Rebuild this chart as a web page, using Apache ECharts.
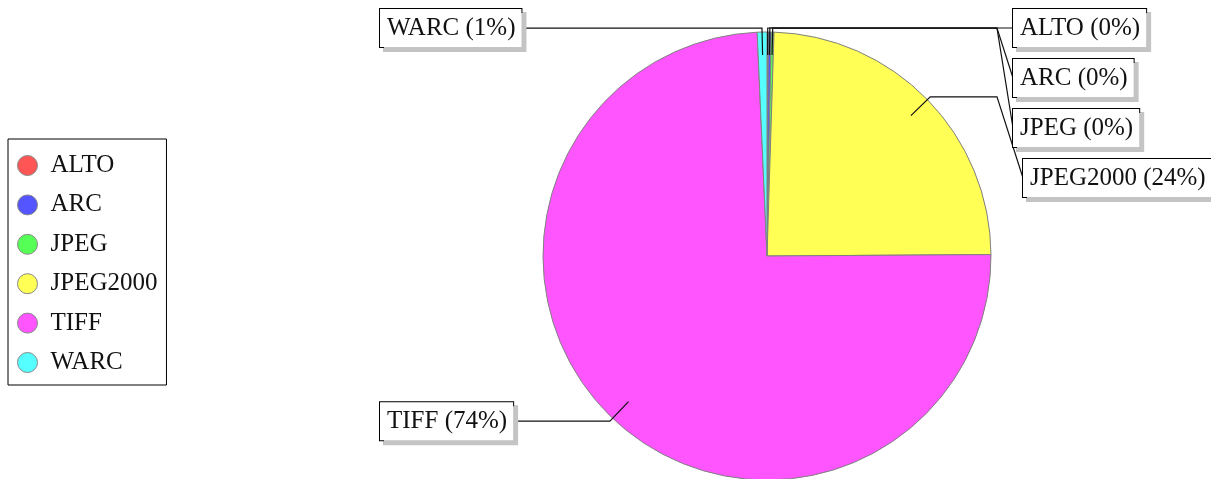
<!DOCTYPE html>
<html>
<head>
<meta charset="utf-8">
<script src="https://cdn.jsdelivr.net/npm/echarts@6/dist/echarts.min.js"></script>
<style>
  html, body { margin: 0; padding: 0; background: #fff; }
  #chart { width: 1211px; height: 479px; }
</style>
</head>
<body>
<div id="chart"></div>
<script>
// data (percentages of all files)
var formats = ['ALTO', 'ARC', 'JPEG', 'JPEG2000', 'TIFF', 'WARC'];
var shares = [0.1, 0.2, 0.2, 24.4, 74.4, 0.7];
var palette = ['#ff5555', '#5555ff', '#55ff55', '#ffff55', '#ff55ff', '#55ffff'];

var CX = 767, CY = 256, R = 224;
var FONT = 'Liberation Serif';

// work out where each label goes (jfreechart-like: columns left/right, stacked)
var total = shares.reduce(function (a, b) { return a + b; }, 0);
var acc = 0;
var geo = shares.map(function (v) {
  var mid = (acc + v / 2) / total * 2 * Math.PI;
  acc += v;
  return { s: Math.sin(mid), c: Math.cos(mid) };
});
function pt(i, rr) {
  return [CX + rr * geo[i].s, CY - rr * geo[i].c];
}
var labelY = [];
var prevR = -1e9, prevL = -1e9;
var leftIdx = [];
geo.forEach(function (g, i) {
  var ey = pt(i, R + 4)[1];
  if (g.s >= 0) {
    labelY[i] = Math.max(ey, prevR + 50);
    prevR = labelY[i];
  } else {
    leftIdx.push(i);
  }
});
leftIdx.sort(function (a, b) { return pt(a, R + 4)[1] - pt(b, R + 4)[1]; });
leftIdx.forEach(function (i) {
  labelY[i] = Math.max(pt(i, R + 4)[1], prevL + 50);
  prevL = labelY[i];
});

var pieData = formats.map(function (n, i) {
  return { name: n, value: shares[i] };
});

var chart = echarts.init(document.getElementById('chart'));
chart.setOption({
  animation: false,
  backgroundColor: '#fff',
  color: palette,
  legend: {
    orient: 'vertical',
    left: 8,
    top: 139,
    padding: [14, 9, 10, 9],
    borderColor: '#000',
    borderWidth: 1,
    icon: 'circle',
    itemWidth: 20,
    itemHeight: 20,
    itemGap: 14.4,
    itemStyle: { borderColor: '#888', borderWidth: 1 },
    textStyle: { fontFamily: FONT, fontSize: 25, color: '#111', lineHeight: 20, padding: [0, 0, 0, 8] },
    data: formats
  },
  series: [
    {
      // the visible pie
      type: 'pie',
      center: [CX, CY],
      radius: R,
      startAngle: 90,
      clockwise: true,
      itemStyle: { borderColor: '#808080', borderWidth: 1 },
      label: { show: false },
      labelLine: { show: false },
      emphasis: { disabled: true },
      data: pieData
    },
    {
      // transparent copy on top, only for the labels so the links run over the slices
      type: 'pie',
      z: 3,
      silent: true,
      center: [CX, CY],
      radius: R,
      startAngle: 90,
      clockwise: true,
      avoidLabelOverlap: false,
      itemStyle: { color: 'rgba(0,0,0,0)', borderWidth: 0 },
      label: {
        show: true,
        position: 'outside',
        overflow: 'none',
        fontFamily: FONT,
        fontSize: 25,
        lineHeight: 26,
        color: '#111',
        backgroundColor: '#fff',
        borderColor: '#000',
        borderWidth: 1,
        padding: [6, 6, 6, 7],
        shadowColor: '#c4c4c4',
        shadowOffsetX: 4,
        shadowOffsetY: 4,
        shadowBlur: 0,
        formatter: function (p) {
          return p.name + ' (' + Math.round(p.value / total * 100) + '%)';
        }
      },
      labelLine: {
        show: true,
        length: 10,
        length2: 10,
        lineStyle: { color: '#111', width: 1.2 }
      },
      labelLayout: function (p) {
        var i = p.dataIndex;
        var inner = pt(i, R - 23);
        var elbow = pt(i, R + 4);
        var y = labelY[i];
        if (geo[i].s >= 0) {
          // the last right-hand box sits a bit further out, as in the original
          var bx = CX + R + (i === 3 ? 32 : 22);
          return {
            x: bx, y: y, align: 'left', verticalAlign: 'middle',
            labelLinePoints: [inner, elbow, [CX + R + 6, elbow[1]], [bx, y]]
          };
        }
        var lx = CX - R - 163;
        return {
          x: lx, y: y, align: 'left', verticalAlign: 'middle',
          labelLinePoints: [inner, elbow, [lx + p.labelRect.width, y]]
        };
      },
      emphasis: { disabled: true },
      data: pieData
    }
  ]
});
</script>
</body>
</html>
